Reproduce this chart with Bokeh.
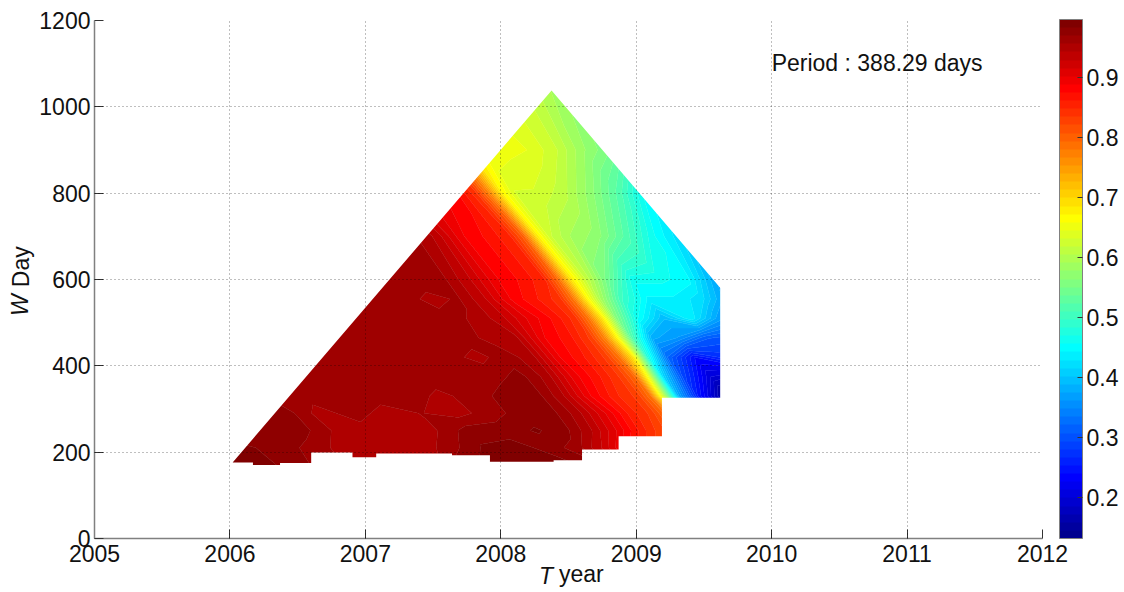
import numpy as np
from bokeh.plotting import figure
from bokeh.models import ColorBar, FixedTicker, Label, LinearAxis, LinearColorMapper, Range1d
from bokeh.embed import file_html
from bokeh.resources import INLINE

x_ticks = [2005, 2006, 2007, 2008, 2009, 2010, 2011, 2012]
y_ticks = [0, 200, 400, 600, 800, 1000, 1200]
cb_ticks = [0.2, 0.3, 0.4, 0.5, 0.6, 0.7, 0.8, 0.9]
v_min, v_max = 0.1316, 0.997
ridge_slope = 393.0  # days per year: the ridge runs along T + W / slope = constant

# columns: value of T + W / slope; rows: window W in days
s_axis = [2006.4, 2006.65, 2006.9, 2007.15, 2007.4, 2007.65, 2007.9, 2008.15, 2008.4, 2008.65, 2008.9, 2009.1,
          2009.3, 2009.5, 2009.7, 2009.85, 2009.95, 2010.05, 2010.15, 2010.3, 2010.5, 2010.7, 2010.9, 2011.1]
w_axis = [170, 210, 250, 290, 330, 375, 420, 465, 510, 555, 600, 700, 800, 900, 1050]

row_170 = [.99, .99, .977, .963, .95, .95, .945, .977, .99, .99, .99, .977,
           .93, .87, .83, .81, .78, .70, .50, .30, .20, .15, .14, .14]
row_210 = [.99, .985, .98, .963, .95, .95, .945, .963, .985, .99, .977, .963,
           .925, .87, .83, .81, .78, .70, .48, .28, .18, .15, .14, .14]
row_250 = [.977, .977, .977, .977, .955, .95, .95, .955, .977, .977, .985, .977,
           .945, .90, .85, .82, .79, .70, .45, .25, .15, .14, .14, .14]
row_290 = [.977, .977, .977, .977, .95, .963, .95, .957, .95, .963, .977, .977,
           .95, .905, .855, .83, .79, .68, .42, .25, .15, .14, .135, .135]
row_330 = [.977, .977, .977, .965, .963, .963, .963, .963, .953, .963, .977, .977,
           .945, .89, .85, .83, .78, .60, .38, .25, .14, .135, .135, .135]
row_375 = [.963, .963, .963, .963, .963, .963, .963, .963, .963, .963, .965, .975,
           .95, .895, .86, .83, .79, .64, .42, .29, .20, .18, .18, .18]
row_420 = [.963, .963, .963, .963, .963, .963, .963, .963, .963, .963, .952, .963,
           .95, .89, .86, .83, .78, .68, .48, .32, .24, .27, .27, .27]
row_465 = [.963, .963, .963, .963, .963, .963, .963, .963, .963, .963, .963, .952,
           .945, .89, .865, .83, .77, .66, .52, .38, .36, .31, .30, .30]
row_510 = [.963, .963, .963, .963, .963, .963, .963, .963, .963, .963, .96, .955,
           .935, .90, .87, .84, .78, .68, .56, .46, .39, .44, .37, .34]
row_555 = [.963, .963, .963, .963, .963, .963, .963, .963, .963, .963, .953, .958,
           .93, .885, .86, .84, .78, .67, .59, .50, .44, .44, .42, .36]
row_600 = [.963, .963, .963, .963, .963, .963, .963, .963, .963, .963, .963, .96,
           .93, .89, .87, .85, .79, .68, .62, .55, .46, .46, .45, .38]
row_700 = [.963, .963, .963, .963, .963, .963, .963, .963, .963, .963, .963, .963,
           .94, .89, .87, .85, .80, .68, .62, .59, .57, .52, .46, .42]
row_800 = [.963, .963, .963, .963, .963, .963, .963, .963, .963, .963, .963, .95,
           .92, .90, .88, .84, .77, .67, .63, .63, .61, .57, .52, .45]
row_900 = [.963, .963, .963, .963, .963, .963, .963, .963, .963, .963, .963, .95,
           .92, .90, .87, .83, .76, .69, .66, .65, .645, .62, .58, .55]
row_1050 = [.963, .963, .963, .963, .963, .963, .963, .963, .963, .963, .963, .95,
            .92, .90, .87, .83, .76, .69, .66, .65, .64, .63, .61, .58]
rows = [row_170, row_210, row_250, row_290, row_330, row_375, row_420, row_465,
        row_510, row_555, row_600, row_700, row_800, row_900, row_1050]

# outline of the region that has data
outline_t = [2006.02, 2006.17, 2006.17, 2006.37, 2006.37, 2006.60, 2006.60, 2006.905, 2006.905, 2007.08,
             2007.08, 2007.64, 2007.64, 2007.92, 2007.92, 2008.39, 2008.39, 2008.60, 2008.60, 2008.87,
             2008.87, 2009.19, 2009.19, 2009.62, 2009.62, 2008.375]
outline_w = [176, 176, 170, 170, 175, 175, 199, 199, 188, 188,
             197, 197, 193, 193, 178, 178, 181, 181, 206, 206,
             237, 237, 326, 326, 581, 1038]


def jet(n):
    out = []
    for i in range(n):
        t = (i + 1) / n
        r = min(1, max(0, min(4 * t - 1.5, -4 * t + 4.5)))
        g = min(1, max(0, min(4 * t - 0.5, -4 * t + 3.5)))
        b = min(1, max(0, min(4 * t + 0.5, -4 * t + 2.5)))
        out.append("#%02x%02x%02x" % (round(r * 255), round(g * 255), round(b * 255)))
    return out


palette = jet(64)
levels = list(np.linspace(v_min, v_max, 65))

FONT = "Liberation Sans"
NB = "\u00a0"
p = figure(frame_width=948, frame_height=518, output_backend="svg", toolbar_location=None,
           x_range=Range1d(2005, 2012), y_range=Range1d(0, 1200),
           min_border_left=94, min_border_right=0, min_border_top=20, min_border_bottom=54,
           background_fill_color="white", border_fill_color="white", outline_line_color=None)

S, W = np.meshgrid(np.array(s_axis), np.array(w_axis, dtype=float))
T = S - W / ridge_slope
Z = np.clip(np.array(rows), v_min + 1e-4, v_max - 1e-4)
p.contour(T, W, Z, levels, fill_color=palette, line_color=palette + palette[-1:], line_width=0.6)

# everything outside the data region stays white
outer_t = [2004.9, 2012.1, 2012.1, 2004.9]
outer_w = [-20, -20, 1220, 1220]
p.multi_polygons(xs=[[[outer_t, outline_t]]], ys=[[[outer_w, outline_w]]],
                 fill_color="white", line_color=None)

for ax in (p.xaxis[0], p.yaxis[0]):
    ax.axis_line_color = "#808080"
    ax.axis_line_width = 1.5
    ax.major_tick_line_color = "#333333"
    ax.major_tick_in = 9
    ax.major_tick_out = 0
    ax.minor_tick_line_color = None
    ax.major_label_text_font = FONT
    ax.major_label_text_font_size = "23px"
    ax.major_label_text_color = "#111111"
    ax.axis_label_text_font = FONT
    ax.axis_label_text_font_size = "23px"
    ax.axis_label_text_font_style = "normal"
    ax.axis_label_text_color = "#111111"
p.xaxis[0].ticker = FixedTicker(ticks=x_ticks)
p.yaxis[0].ticker = FixedTicker(ticks=y_ticks)
p.xaxis[0].major_label_standoff = 6
p.yaxis[0].major_label_standoff = 4
p.xaxis[0].axis_label = NB * 4 + "year"
p.yaxis[0].axis_label = NB * 4 + "Day"
p.xaxis[0].axis_label_standoff = -4
p.yaxis[0].axis_label_standoff = 2


def italic_axis(text):
    # second axis whose label lies over the first axis's label, for the italic letter
    return LinearAxis(ticker=FixedTicker(ticks=[]), axis_line_color=None, major_tick_line_color=None,
                      minor_tick_line_color=None, major_label_text_color=None, axis_label=text,
                      axis_label_text_font=FONT, axis_label_text_font_size="23px",
                      axis_label_text_font_style="italic", axis_label_text_color="#111111",
                      axis_label_standoff=-27, major_tick_in=0, major_tick_out=0)


p.add_layout(italic_axis(NB + "T" + NB * 8), "below")
p.add_layout(italic_axis("W" + NB * 8), "left")

for g in (p.xgrid[0], p.ygrid[0]):
    g.level = "overlay"
    g.grid_line_color = "#000000"
    g.grid_line_alpha = 0.5
    g.grid_line_dash = "1 3"
    g.grid_line_width = 1
p.xgrid[0].ticker = FixedTicker(ticks=x_ticks)
p.ygrid[0].ticker = FixedTicker(ticks=y_ticks)

mapper = LinearColorMapper(palette=palette, low=v_min, high=v_max)
cb = ColorBar(color_mapper=mapper, ticker=FixedTicker(ticks=cb_ticks), width=23, height=519,
              padding=0, margin=0, location=(17, 0), major_label_text_font=FONT,
              major_label_text_font_size="23px", major_label_text_color="#111111",
              major_tick_line_color="#333333", major_tick_in=5, minor_tick_line_color=None,
              bar_line_color="#808080", label_standoff=4, title=None)
p.add_layout(cb, "right")

p.add_layout(Label(x=2010.0, y=1102, text="Period : 388.29 days", text_font=FONT, text_font_size="23px",
                   text_color="#111111", text_baseline="middle"))

open("out.html", "w").write(file_html(p, INLINE))
